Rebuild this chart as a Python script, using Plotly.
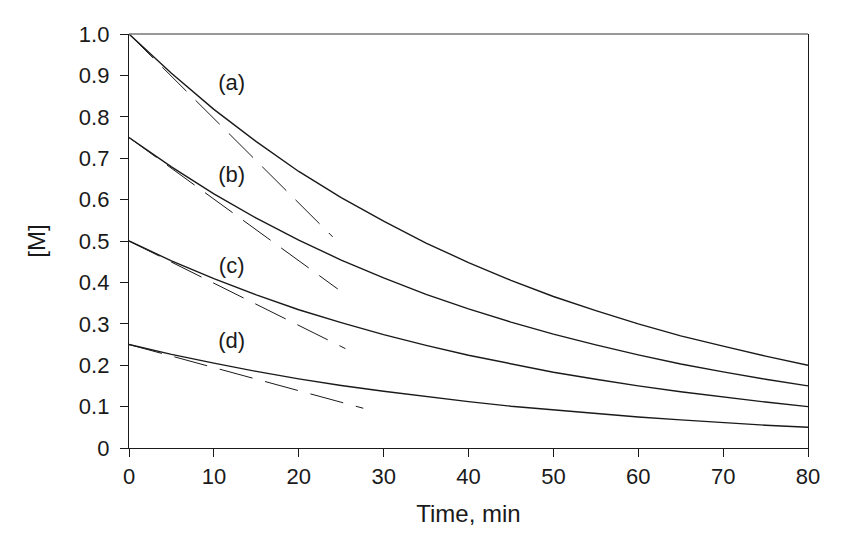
import plotly.graph_objects as go

# Time points (min)
t = [0, 5, 10, 15, 20, 25, 30, 35, 40, 45, 50, 55, 60, 65, 70, 75, 80]

# Concentration curves [M]
conc_a = [1.0, 0.905, 0.818, 0.74, 0.668, 0.605, 0.548, 0.495, 0.448, 0.405, 0.366, 0.332, 0.300, 0.271, 0.246, 0.222, 0.200]
conc_b = [0.75, 0.679, 0.614, 0.555, 0.502, 0.454, 0.411, 0.371, 0.336, 0.304, 0.275, 0.249, 0.225, 0.203, 0.184, 0.166, 0.150]
conc_c = [0.5, 0.452, 0.409, 0.370, 0.334, 0.303, 0.274, 0.248, 0.224, 0.203, 0.183, 0.166, 0.150, 0.136, 0.123, 0.111, 0.100]
conc_d = [0.25, 0.226, 0.205, 0.185, 0.167, 0.151, 0.137, 0.124, 0.112, 0.101, 0.092, 0.083, 0.075, 0.068, 0.061, 0.055, 0.050]

# Initial-rate tangent lines: start and end points
tan_a_x = [0, 24.0]
tan_a_y = [1.0, 0.51]
tan_b_x = [0, 24.6]
tan_b_y = [0.75, 0.384]
tan_c_x = [0, 25.5]
tan_c_y = [0.5, 0.240]
tan_d_x = [0, 27.6]
tan_d_y = [0.25, 0.096]

labels = ["(a)", "(b)", "(c)", "(d)"]
label_x = [12.1, 12.1, 12.1, 12.1]
label_y = [0.879, 0.657, 0.437, 0.254]

x_ticks = [0, 10, 20, 30, 40, 50, 60, 70, 80]
y_ticks = [0, 0.1, 0.2, 0.3, 0.4, 0.5, 0.6, 0.7, 0.8, 0.9, 1.0]
y_ticktext = ["0", "0.1", "0.2", "0.3", "0.4", "0.5", "0.6", "0.7", "0.8", "0.9", "1.0"]

INK = "#1a1a1a"
FAM = "Liberation Sans, Arial, sans-serif"
tick_font = dict(family=FAM, size=22, color=INK)
title_font = dict(family=FAM, size=24, color=INK)

fig = go.Figure()
for cy in [conc_a, conc_b, conc_c, conc_d]:
    fig.add_trace(go.Scatter(x=t, y=cy, mode="lines",
                             line=dict(color=INK, width=1.4),
                             showlegend=False, hoverinfo="skip"))
for tx, ty in [(tan_a_x, tan_a_y), (tan_b_x, tan_b_y), (tan_c_x, tan_c_y), (tan_d_x, tan_d_y)]:
    fig.add_trace(go.Scatter(x=tx, y=ty, mode="lines",
                             line=dict(color=INK, width=1, dash="34px,13px"),
                             showlegend=False, hoverinfo="skip"))

fig.add_trace(go.Scatter(x=label_x, y=label_y, mode="text", text=labels,
                         textfont=dict(family=FAM, size=22, color=INK),
                         showlegend=False, hoverinfo="skip"))

fig.update_layout(
    width=852, height=538,
    margin=dict(l=121, r=52, t=26, b=98),
    paper_bgcolor="white", plot_bgcolor="white",
    font=tick_font,
    xaxis=dict(range=[0, 80], tickvals=x_ticks, ticks="outside", ticklen=8,
               tickcolor=INK, tickwidth=1.3,
               showline=True, linecolor=INK, linewidth=1.3,
               showgrid=False, zeroline=False, tickfont=tick_font,
               title=dict(text="Time, min", font=title_font, standoff=17)),
    yaxis=dict(range=[0, 1.0], tickvals=y_ticks, ticktext=y_ticktext,
               ticks="outside", ticklen=8, tickcolor=INK, tickwidth=1.3,
               showline=True, linecolor=INK, linewidth=1.3, mirror=True,
               showgrid=False, zeroline=False, tickfont=tick_font,
               ticklabelstandoff=6,
               title=dict(text="[M]", font=title_font, standoff=26)),
    shapes=[dict(type="line", xref="paper", yref="paper", x0=0, x1=1, y0=1, y1=1,
                 line=dict(color="#777777", width=1.5))],
)

fig.write_html("out.html")
